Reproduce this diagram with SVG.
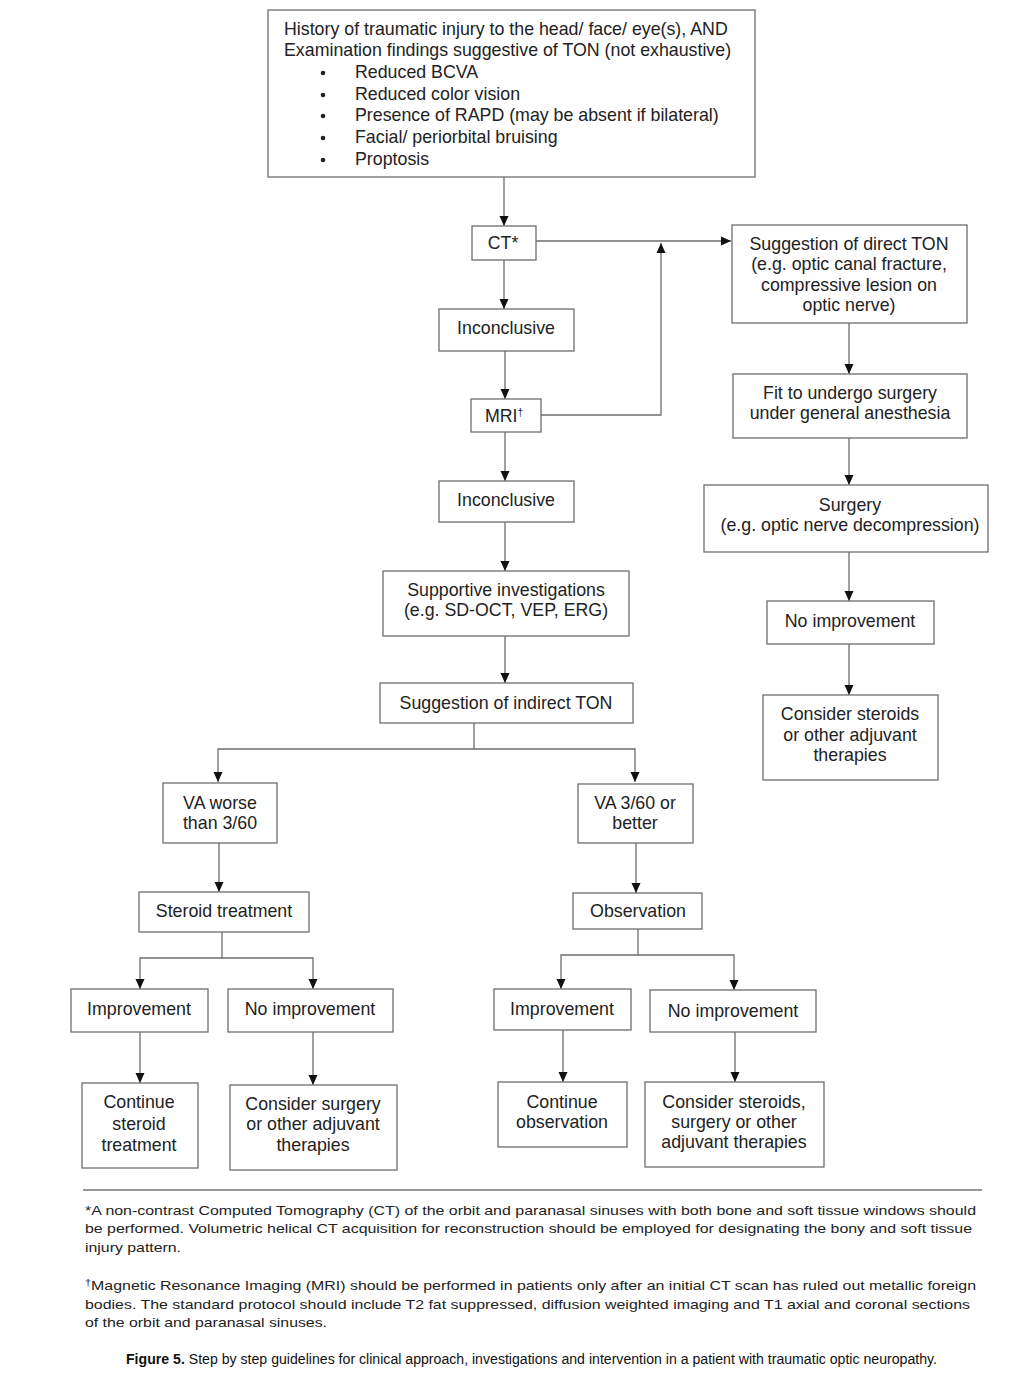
<svg xmlns="http://www.w3.org/2000/svg" width="1019" height="1378" viewBox="0 0 1019 1378">
<style>
.box{fill:#fff;stroke:#6e6e6e;stroke-width:1.3}
.t{font-family:"Liberation Sans",Arial,sans-serif;font-size:17.8px;fill:#222;text-anchor:middle}
.tl{font-family:"Liberation Sans",Arial,sans-serif;font-size:17.8px;fill:#222}
.c{fill:none;stroke:#6e6e6e;stroke-width:1.3}
.fn{font-family:"Liberation Sans",Arial,sans-serif;font-size:13px;fill:#222}
.cap{font-family:"Liberation Sans",Arial,sans-serif;font-size:14px;fill:#111}
</style>
<defs>
<marker id="ah" markerUnits="userSpaceOnUse" markerWidth="10" markerHeight="10" viewBox="0 0 10 10" refX="10" refY="5" orient="auto">
<path d="M0,0.5 L10,5 L0,9.5 z" fill="#111"/>
</marker>
</defs>
<rect width="1019" height="1378" fill="#fff"/>

<g id="connectors">
<line class="c" x1="504" y1="177" x2="504" y2="226" marker-end="url(#ah)"/>
<line class="c" x1="536" y1="241" x2="731" y2="241" marker-end="url(#ah)"/>
<polyline class="c" points="541,415 661,415 661,243" marker-end="url(#ah)"/>
<line class="c" x1="504" y1="260" x2="504" y2="309" marker-end="url(#ah)"/>
<line class="c" x1="505" y1="351" x2="505" y2="399" marker-end="url(#ah)"/>
<line class="c" x1="505" y1="432" x2="505" y2="481" marker-end="url(#ah)"/>
<line class="c" x1="505" y1="522" x2="505" y2="571" marker-end="url(#ah)"/>
<line class="c" x1="505" y1="636" x2="505" y2="683" marker-end="url(#ah)"/>
<polyline class="c" points="474,723 474,749 218,749 218,782" marker-end="url(#ah)"/>
<polyline class="c" points="474,749 635,749 635,782" marker-end="url(#ah)"/>
<line class="c" x1="219" y1="843" x2="219" y2="892" marker-end="url(#ah)"/>
<line class="c" x1="636" y1="843" x2="636" y2="893" marker-end="url(#ah)"/>
<polyline class="c" points="222,932 222,958 140,958 140,989" marker-end="url(#ah)"/>
<polyline class="c" points="222,958 313,958 313,989" marker-end="url(#ah)"/>
<polyline class="c" points="638,929 638,955 561,955 561,989" marker-end="url(#ah)"/>
<polyline class="c" points="638,955 734,955 734,990" marker-end="url(#ah)"/>
<line class="c" x1="140" y1="1032" x2="140" y2="1083" marker-end="url(#ah)"/>
<line class="c" x1="313" y1="1032" x2="313" y2="1085" marker-end="url(#ah)"/>
<line class="c" x1="563" y1="1030" x2="563" y2="1082" marker-end="url(#ah)"/>
<line class="c" x1="735" y1="1032" x2="735" y2="1082" marker-end="url(#ah)"/>
<line class="c" x1="849" y1="323" x2="849" y2="374" marker-end="url(#ah)"/>
<line class="c" x1="849" y1="438" x2="849" y2="485" marker-end="url(#ah)"/>
<line class="c" x1="849" y1="552" x2="849" y2="601" marker-end="url(#ah)"/>
<line class="c" x1="849" y1="644" x2="849" y2="695" marker-end="url(#ah)"/>
</g>

<g id="n-history">
<rect class="box" x="268" y="10" width="487" height="167"/>
<text class="tl" x="284" y="35">History of traumatic injury to the head/ face/ eye(s), AND</text>
<text class="tl" x="284" y="56">Examination findings suggestive of TON (not exhaustive)</text>
<g fill="#222"><circle cx="323" cy="73" r="2.3"/><circle cx="323" cy="95" r="2.3"/><circle cx="323" cy="116" r="2.3"/><circle cx="323" cy="138" r="2.3"/><circle cx="323" cy="160" r="2.3"/></g>
<text class="tl" x="355" y="78">Reduced BCVA</text>
<text class="tl" x="355" y="100">Reduced color vision</text>
<text class="tl" x="355" y="121">Presence of RAPD (may be absent if bilateral)</text>
<text class="tl" x="355" y="143">Facial/ periorbital bruising</text>
<text class="tl" x="355" y="165">Proptosis</text>
</g>

<g id="n-ct">
<rect class="box" x="472" y="226" width="64" height="34"/>
<text class="t" x="503" y="249">CT*</text>
</g>

<g id="n-direct">
<rect class="box" x="732" y="225" width="235" height="98"/>
<text class="t" x="849" y="250">Suggestion of direct TON</text>
<text class="t" x="849" y="270">(e.g. optic canal fracture,</text>
<text class="t" x="849" y="291">compressive lesion on</text>
<text class="t" x="849" y="311">optic nerve)</text>
</g>

<g id="n-inconc1">
<rect class="box" x="439" y="309" width="135" height="42"/>
<text class="t" x="506" y="334">Inconclusive</text>
</g>

<g id="n-mri">
<rect class="box" x="471" y="399" width="70" height="33"/>
<text class="t" x="504" y="422">MRI<tspan font-size="10" dy="-6">†</tspan></text>
</g>

<g id="n-inconc2">
<rect class="box" x="439" y="481" width="135" height="41"/>
<text class="t" x="506" y="506">Inconclusive</text>
</g>

<g id="n-supportive">
<rect class="box" x="383" y="571" width="246" height="65"/>
<text class="t" x="506" y="596">Supportive investigations</text>
<text class="t" x="506" y="616">(e.g. SD-OCT, VEP, ERG)</text>
</g>

<g id="n-indirect">
<rect class="box" x="380" y="683" width="253" height="40"/>
<text class="t" x="506" y="709">Suggestion of indirect TON</text>
</g>

<g id="n-vaworse">
<rect class="box" x="163" y="783" width="114" height="60"/>
<text class="t" x="220" y="809">VA worse</text>
<text class="t" x="220" y="829">than 3/60</text>
</g>

<g id="n-vabetter">
<rect class="box" x="578" y="784" width="115" height="59"/>
<text class="t" x="635" y="809">VA 3/60 or</text>
<text class="t" x="635" y="829">better</text>
</g>

<g id="n-steroid">
<rect class="box" x="139" y="892" width="170" height="40"/>
<text class="t" x="224" y="917">Steroid treatment</text>
</g>

<g id="n-observation">
<rect class="box" x="573" y="893" width="129" height="36"/>
<text class="t" x="638" y="917">Observation</text>
</g>

<g id="n-improve-l">
<rect class="box" x="71" y="989" width="137" height="43"/>
<text class="t" x="139" y="1015">Improvement</text>
</g>

<g id="n-noimprove-l">
<rect class="box" x="228" y="989" width="165" height="43"/>
<text class="t" x="310" y="1015">No improvement</text>
</g>

<g id="n-continue-steroid">
<rect class="box" x="82" y="1083" width="116" height="85"/>
<text class="t" x="139" y="1108">Continue</text>
<text class="t" x="139" y="1130">steroid</text>
<text class="t" x="139" y="1151">treatment</text>
</g>

<g id="n-consider-surgery">
<rect class="box" x="230" y="1085" width="167" height="85"/>
<text class="t" x="313" y="1110">Consider surgery</text>
<text class="t" x="313" y="1130">or other adjuvant</text>
<text class="t" x="313" y="1151">therapies</text>
</g>

<g id="n-improve-r">
<rect class="box" x="494" y="989" width="137" height="41"/>
<text class="t" x="562" y="1015">Improvement</text>
</g>

<g id="n-noimprove-r">
<rect class="box" x="650" y="990" width="166" height="42"/>
<text class="t" x="733" y="1017">No improvement</text>
</g>

<g id="n-continue-obs">
<rect class="box" x="498" y="1082" width="129" height="65"/>
<text class="t" x="562" y="1108">Continue</text>
<text class="t" x="562" y="1128">observation</text>
</g>

<g id="n-consider-steroids-r">
<rect class="box" x="645" y="1082" width="179" height="85"/>
<text class="t" x="734" y="1108">Consider steroids,</text>
<text class="t" x="734" y="1128">surgery or other</text>
<text class="t" x="734" y="1148">adjuvant therapies</text>
</g>

<g id="n-fit">
<rect class="box" x="733" y="374" width="234" height="64"/>
<text class="t" x="850" y="399">Fit to undergo surgery</text>
<text class="t" x="850" y="419">under general anesthesia</text>
</g>

<g id="n-surgery">
<rect class="box" x="704" y="485" width="284" height="67"/>
<text class="t" x="850" y="511">Surgery</text>
<text class="t" x="850" y="531">(e.g. optic nerve decompression)</text>
</g>

<g id="n-noimprove-direct">
<rect class="box" x="767" y="601" width="167" height="43"/>
<text class="t" x="850" y="627">No improvement</text>
</g>

<g id="n-consider-steroids-direct">
<rect class="box" x="763" y="695" width="175" height="85"/>
<text class="t" x="850" y="720">Consider steroids</text>
<text class="t" x="850" y="741">or other adjuvant</text>
<text class="t" x="850" y="761">therapies</text>
</g>

<line x1="83" y1="1190" x2="982" y2="1190" stroke="#777" stroke-width="1.3"/>
<text class="fn" x="85" y="1215" textLength="891" lengthAdjust="spacingAndGlyphs">*A non-contrast Computed Tomography (CT) of the orbit and paranasal sinuses with both bone and soft tissue windows should</text>
<text class="fn" x="85" y="1233" textLength="887" lengthAdjust="spacingAndGlyphs">be performed. Volumetric helical CT acquisition for reconstruction should be employed for designating the bony and soft tissue</text>
<text class="fn" x="85" y="1252" textLength="96" lengthAdjust="spacingAndGlyphs">injury pattern.</text>
<text class="fn" x="85" y="1290" textLength="891" lengthAdjust="spacingAndGlyphs"><tspan font-size="9" dy="-4">†</tspan><tspan dy="4">Magnetic Resonance Imaging (MRI) should be performed in patients only after an initial CT scan has ruled out metallic foreign</tspan></text>
<text class="fn" x="85" y="1309" textLength="885" lengthAdjust="spacingAndGlyphs">bodies. The standard protocol should include T2 fat suppressed, diffusion weighted imaging and T1 axial and coronal sections</text>
<text class="fn" x="85" y="1327" textLength="242" lengthAdjust="spacingAndGlyphs">of the orbit and paranasal sinuses.</text>
<text class="cap" x="126" y="1364" textLength="811" lengthAdjust="spacingAndGlyphs"><tspan font-weight="bold">Figure 5.</tspan> Step by step guidelines for clinical approach, investigations and intervention in a patient with traumatic optic neuropathy.</text>
</svg>
